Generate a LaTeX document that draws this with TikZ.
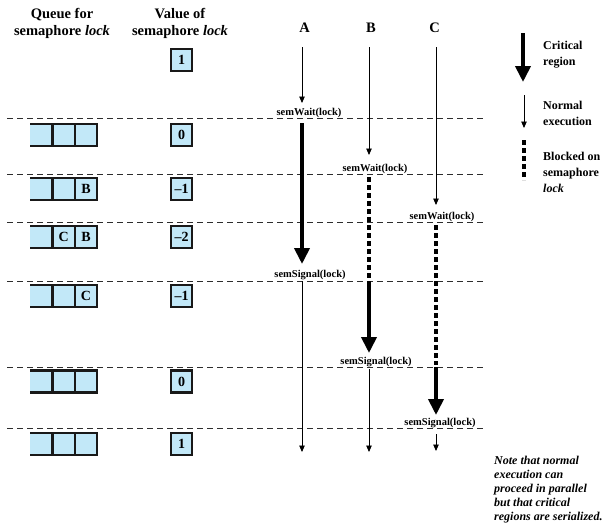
\documentclass[tikz,border=0pt]{standalone}
\usepackage{fontspec}
\setmainfont{Liberation Serif}
\usetikzlibrary{arrows.meta}
\definecolor{qblue}{RGB}{194,232,248}
\definecolor{dline}{RGB}{45,45,45}
\begin{document}
\begin{tikzpicture}[x=1pt,y=-1pt,
  hdr/.style={font=\fontsize{14.5}{17}\selectfont\bfseries, align=center, inner sep=0, anchor=north},
  proc/.style={font=\fontsize{14.5}{17}\selectfont\bfseries, inner sep=0, anchor=base},
  vbox/.style={draw=black!90, line width=2.3pt, fill=qblue, minimum width=21pt, minimum height=22pt, inner sep=0, font=\fontsize{14}{14}\selectfont\bfseries},
  qline/.style={draw=black!90, line width=2.3pt},
  qlet/.style={font=\fontsize{14}{14}\selectfont\bfseries, inner sep=0},
  sep/.style={dline, line width=0.9pt, dash pattern=on 6pt off 4pt},
  lbl/.style={font=\fontsize{10.5}{12}\selectfont\bfseries, inner sep=0, anchor=base},
  leg/.style={font=\fontsize{12}{16}\selectfont\bfseries, align=left, inner sep=0, anchor=north west},
  normal/.style={black, line width=0.9pt, -{Triangle[length=6.5pt,width=5.5pt]}},
  crit/.style={black, line width=3.8pt, -{Triangle[length=16pt,width=15pt]}},
  blocked/.style={black, line width=3.5pt, dash pattern=on 5pt off 3pt},
]
\useasboundingbox (0,0) rectangle (607,525);

% headers
\node[hdr] (hq) at (62,8.5) {Queue for\\semaphore \textit{lock}};
\node[hdr] (hv) at (180,8.5) {Value of\\semaphore \textit{lock}};
\node[proc] (pA) at (304.5,32.3) {A};
\node[proc] (pB) at (371,32.3) {B};
\node[proc] (pC) at (434.5,32.3) {C};

% dashed separators
\foreach \y [count=\i] in {118,174,222,281,367,428}{
  \draw[sep] (7,\y) -- (485,\y);
}

% value boxes
\foreach \y/\v [count=\i] in {60/1,135/0,189/{–1},237/{–2},296/{–1},381.5/0,444/1}{
  \node[vbox] (v\i) at (181.5,\y) {\v};
}

% queues
\foreach \y/\m/\r [count=\i] in {135/{}/{},189/{}/B,237/C/B,296/{}/C,381.5/{}/{},444/{}/{}}{
  \fill[qblue] (30,\y-11) rectangle (97,\y+11);
  \draw[qline] (30,\y-11) -- (97,\y-11) -- (97,\y+11) -- (30,\y+11);
  \draw[qline] (52.5,\y-11) -- (52.5,\y+11);
  \draw[qline] (75,\y-11) -- (75,\y+11);
  \node[qlet] (qm\i) at (63.75,\y) {\m};
  \node[qlet] (qr\i) at (86,\y) {\r};
}

% process A
\coordinate (a0) at (302,47);
\coordinate (a1) at (302,103);
\coordinate (a2) at (302,123);
\coordinate (a3) at (302,264);
\coordinate (a4) at (302,281);
\coordinate (a5) at (302,452);
\draw[normal] (a0) -- (a1);
\draw[crit] (a2) -- (a3);
\draw[normal] (a4) -- (a5);
\node[lbl] (wA) at (309,115.5) {semWait(lock)};
\node[lbl] (sA) at (310,277.5) {semSignal(lock)};

% process B
\coordinate (b0) at (369,47);
\coordinate (b1) at (369,155);
\coordinate (b2) at (369,177);
\coordinate (b3) at (369,279);
\coordinate (b4) at (369,281);
\coordinate (b5) at (369,353);
\coordinate (b6) at (369,369);
\coordinate (b7) at (369,452);
\draw[normal] (b0) -- (b1);
\draw[blocked] (b2) -- (b3);
\draw[crit] (b4) -- (b5);
\draw[normal] (b6) -- (b7);
\node[lbl] (wB) at (375,171) {semWait(lock)};
\node[lbl] (sB) at (376,364.5) {semSignal(lock)};

% process C
\coordinate (c0) at (436,47);
\coordinate (c1) at (436,205);
\coordinate (c2) at (436,225);
\coordinate (c3) at (436,365);
\coordinate (c4) at (436,367);
\coordinate (c5) at (436,415);
\coordinate (c6) at (436,434);
\coordinate (c7) at (436,451);
\draw[normal] (c0) -- (c1);
\draw[blocked] (c2) -- (c3);
\draw[crit] (c4) -- (c5);
\draw[normal] (c6) -- (c7);
\node[lbl] (wC) at (442,219.5) {semWait(lock)};
\node[lbl] (sC) at (440,425.5) {semSignal(lock)};

% legend
\coordinate (l0) at (523,33);
\coordinate (l1) at (523,82);
\coordinate (l2) at (524,95);
\coordinate (l3) at (524,128);
\coordinate (l4) at (524,140);
\coordinate (l5) at (524,180);
\draw[crit] (l0) -- (l1);
\draw[normal] (l2) -- (l3);
\draw[blocked] (l4) -- (l5);
\node[leg] (lc) at (543,41) {Critical\\region};
\node[leg] (ln) at (543,101) {Normal\\execution};
\node[leg] (lb) at (543,152) {Blocked on\\semaphore\\\textit{lock}};

% note
\node[font=\fontsize{12}{14}\selectfont\bfseries\itshape, align=left, inner sep=0, anchor=north west] (note) at (494,456)
  {Note that normal\\execution can\\proceed in parallel\\but that critical\\regions are serialized.};
\end{tikzpicture}
\end{document}
